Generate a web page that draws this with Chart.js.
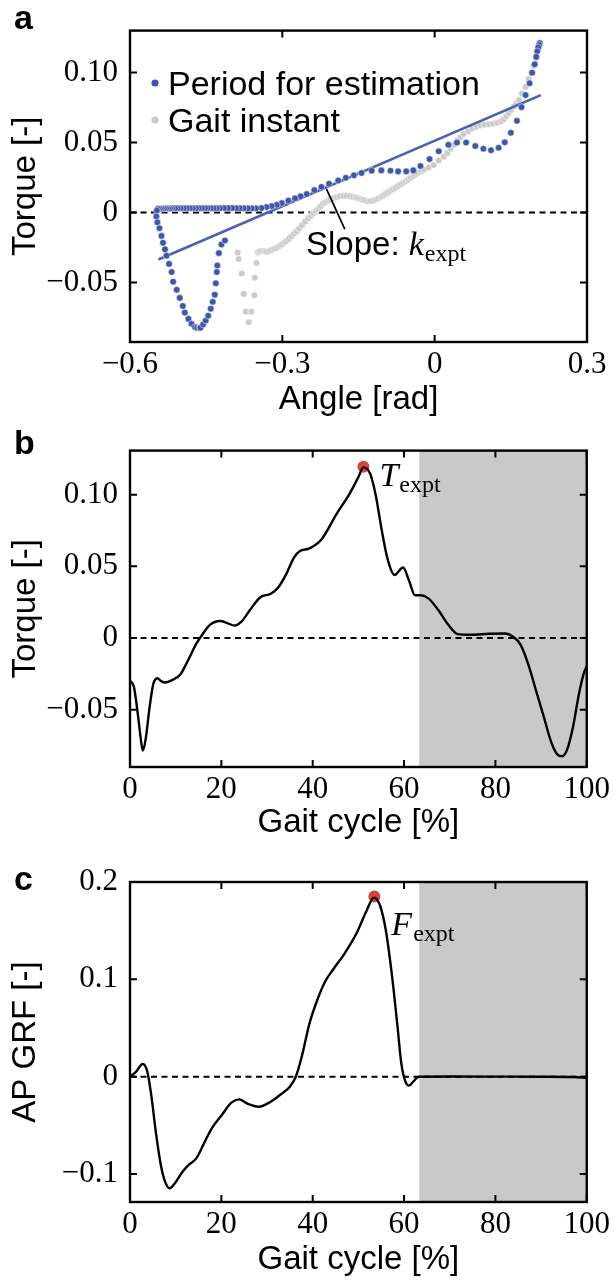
<!DOCTYPE html>
<html>
<head>
<meta charset="utf-8">
<script src="https://cdn.jsdelivr.net/npm/chart.js@4.4.1/dist/chart.umd.min.js"></script>
<style>
  html, body { margin: 0; padding: 0; background: #fff; }
  #wrap { position: relative; width: 614px; height: 1280px; }
  canvas { position: absolute; left: 0; }
</style>
</head>
<body>
<div id="wrap">
  <canvas id="chartA" width="614" height="420" style="top:0px"></canvas>
  <canvas id="chartB" width="614" height="430" style="top:420px"></canvas>
  <canvas id="chartC" width="614" height="430" style="top:850px"></canvas>
</div>
<script>
// ---------- panel a : torque vs angle ----------
// period for estimation (blue), in time order
const estAngle = [0.207, 0.206, 0.204, 0.202, 0.200, 0.197, 0.192, 0.187, 0.179, 0.171, 0.162, 0.150, 0.138, 0.126, 0.111,
  0.096, 0.080, 0.062, 0.044, 0.027, 0.008, -0.010, -0.028, -0.042, -0.056, -0.072, -0.087, -0.105, -0.124, -0.144,
  -0.159, -0.175, -0.190, -0.208, -0.223, -0.237, -0.252, -0.264, -0.275, -0.288, -0.301, -0.311, -0.321, -0.331, -0.341,
  -0.352, -0.360, -0.368, -0.376, -0.384, -0.391, -0.399, -0.407, -0.415, -0.423, -0.429, -0.435, -0.441, -0.447, -0.452,
  -0.458, -0.464, -0.470, -0.476, -0.482, -0.488, -0.494, -0.500, -0.506, -0.511, -0.517, -0.521, -0.525, -0.529, -0.533,
  -0.537, -0.541, -0.545, -0.547, -0.548, -0.546, -0.542, -0.538, -0.535, -0.531, -0.528, -0.523, -0.518, -0.515, -0.508,
  -0.502, -0.496, -0.492, -0.485, -0.479, -0.472, -0.468, -0.463, -0.461, -0.456, -0.451, -0.446, -0.441, -0.437, -0.433,
  -0.431, -0.429, -0.428, -0.425, -0.420, -0.413];
const estTorque = [0.121, 0.1197, 0.1179, 0.1151, 0.1111, 0.1058, 0.0998, 0.0923, 0.0838, 0.0752, 0.0654, 0.0569, 0.0501, 0.0462, 0.0444,
  0.0455, 0.0474, 0.0499, 0.0499, 0.0483, 0.0437, 0.0381, 0.0332, 0.0300, 0.0293, 0.0293, 0.0298, 0.0300, 0.0298, 0.0282,
  0.0265, 0.0247, 0.0228, 0.0205, 0.0182, 0.0159, 0.0131, 0.0115, 0.0101, 0.0084, 0.0066, 0.0054, 0.0045, 0.0038, 0.0031,
  0.0029, 0.0029, 0.0030, 0.0030, 0.0030, 0.0030, 0.0031, 0.0031, 0.0031, 0.0030, 0.0030, 0.0030, 0.0030, 0.0030, 0.0030,
  0.0030, 0.0030, 0.0030, 0.0030, 0.0030, 0.0030, 0.0030, 0.0030, 0.0029, 0.0029, 0.0029, 0.0028, 0.0028, 0.0028, 0.0027,
  0.0026, 0.0026, 0.0025, 0.0013, -0.0029, -0.0071, -0.0113, -0.0168, -0.0217, -0.0264, -0.0309, -0.0368, -0.0426, -0.0495, -0.0553,
  -0.0611, -0.0669, -0.0716, -0.0761, -0.0796, -0.0820, -0.0825, -0.0826, -0.0824, -0.0801, -0.0773, -0.0738, -0.0688, -0.0639, -0.0588,
  -0.0507, -0.0426, -0.0379, -0.0291, -0.0229, -0.0201];
// gait instant (grey), in time order
const instAngle = [-0.388, -0.386, -0.380, -0.376, -0.372, -0.366, -0.361, -0.355, -0.354, -0.351, -0.348, -0.345, -0.343, -0.338, -0.334,
  -0.331, -0.326, -0.321, -0.316, -0.311, -0.306, -0.301, -0.296, -0.292, -0.287, -0.282, -0.277, -0.272, -0.267, -0.261,
  -0.255, -0.249, -0.244, -0.239, -0.234, -0.229, -0.225, -0.220, -0.215, -0.210, -0.205, -0.200, -0.193, -0.187, -0.180,
  -0.174, -0.167, -0.161, -0.156, -0.151, -0.146, -0.141, -0.136, -0.131, -0.126, -0.121, -0.116, -0.111, -0.106, -0.102,
  -0.097, -0.092, -0.087, -0.082, -0.077, -0.072, -0.067, -0.062, -0.057, -0.052, -0.047, -0.042, -0.037, -0.033, -0.027,
  -0.021, -0.012, -0.002, 0.008, 0.018, 0.025, 0.031, 0.038, 0.044, 0.051, 0.057, 0.066, 0.074, 0.082, 0.090,
  0.098, 0.107, 0.115, 0.123, 0.130, 0.136, 0.141, 0.146, 0.151, 0.156, 0.161, 0.166, 0.172, 0.179, 0.185,
  0.190, 0.195, 0.200, 0.204];
const instTorque = [-0.0287, -0.0333, -0.0437, -0.0583, -0.0709, -0.0785, -0.0709, -0.0592, -0.0467, -0.0361, -0.0287, -0.0280, -0.0276, -0.0276, -0.0279,
  -0.0282, -0.0277, -0.0268, -0.0260, -0.0252, -0.0241, -0.0229, -0.0217, -0.0205, -0.0188, -0.0170, -0.0153, -0.0136, -0.0115, -0.0090,
  -0.0066, -0.0043, -0.0025, -0.0008, 0.0009, 0.0026, 0.0043, 0.0061, 0.0073, 0.0084, 0.0093, 0.0101, 0.0108, 0.0115, 0.0118,
  0.0119, 0.0116, 0.0112, 0.0107, 0.0101, 0.0095, 0.0089, 0.0084, 0.0080, 0.0081, 0.0084, 0.0092, 0.0101, 0.0110, 0.0119,
  0.0131, 0.0143, 0.0155, 0.0166, 0.0177, 0.0188, 0.0200, 0.0212, 0.0223, 0.0235, 0.0248, 0.0260, 0.0272, 0.0283, 0.0295,
  0.0305, 0.0320, 0.0339, 0.0370, 0.0397, 0.0425, 0.0455, 0.0484, 0.0513, 0.0537, 0.0560, 0.0580, 0.0599, 0.0612, 0.0622,
  0.0627, 0.0629, 0.0633, 0.0640, 0.0650, 0.0664, 0.0686, 0.0710, 0.0733, 0.0757, 0.0780, 0.0803, 0.0849, 0.0896, 0.0953,
  0.1000, 0.1047, 0.1104, 0.1162];
// fitted line and the pointer of the "Slope" label
const fitAngle = [-0.544, 0.209];
const fitTorque = [-0.0337, 0.0838];
const leadAngle = [-0.213, -0.177];
const leadTorque = [0.0166, -0.012];
const angleTicks = [-0.6, -0.3, 0, 0.3];
const angleLabels = ['\u22120.6', '\u22120.3', '0', '0.3'];
const torqueTicks = [-0.05, 0, 0.05, 0.10];
const torqueLabels = ['\u22120.05', '0', '0.05', '0.10'];

// ---------- panel b : torque over the gait cycle ----------
const gaitB = [0, 0.85, 1.7, 2.3, 2.8, 3.4, 4.3, 5.1, 6.0, 6.8, 7.7, 9.4, 11.1, 12.8, 14.5, 15.8, 17.5, 19.7, 21.4, 22.9,
  24.4, 26.5, 28.6, 30.8, 32.5, 34.2, 35.9, 37.2, 39.3, 41.9, 45.3, 47.9, 50.0, 51.1, 52.6, 53.8, 55.1, 56.4, 57.9, 59.8,
  61.1, 62.4, 63.7, 65.4, 67.5, 69.7, 71.8, 74.4, 78.6, 82.1, 83.8, 85.5, 87.2, 88.9, 90.6, 92.3, 93.6, 94.6, 95.7, 97.0,
  98.3, 99.3, 100];
const torqueB = [-0.0298, -0.034, -0.0527, -0.0687, -0.0785, -0.071, -0.048, -0.032, -0.028, -0.030, -0.031, -0.029, -0.025, -0.0149, -0.004, 0.0023, 0.0092, 0.0119, 0.0103, 0.0087,
  0.0114, 0.0206, 0.0286, 0.0309, 0.0355, 0.0446, 0.0561, 0.0607, 0.0625, 0.0687, 0.087, 0.0996, 0.1122, 0.119, 0.1145, 0.0996, 0.0755, 0.055, 0.044, 0.0492,
  0.040, 0.0298, 0.0298, 0.0275, 0.0195, 0.0092, 0.0027, 0.0023, 0.003, 0.0032, 0.0011, -0.0046, -0.0183, -0.0366, -0.055, -0.0733, -0.0813, -0.0824, -0.0778, -0.0618,
  -0.0389, -0.0252, -0.0195];
const torquePeak = [51.1, 0.1195];

// ---------- panel c : AP ground reaction force ----------
const gaitC = [0, 1.3, 2.8, 3.8, 4.7, 5.6, 6.8, 7.7, 8.7, 9.8, 11.5, 12.8, 14.5, 16.2, 17.9, 20.1, 22.2, 23.9, 25.6, 28.2,
  30.8, 33.3, 35.0, 36.3, 37.6, 39.3, 41.0, 42.7, 44.4, 47.0, 49.6, 51.7, 53.4, 54.7, 56.0, 57.3, 58.5, 59.4, 60.3, 61.1,
  62.0, 63.2, 70, 80, 90, 97, 100];
const grfC = [0, 0.005, 0.013, 0.005, -0.0205, -0.0548, -0.092, -0.108, -0.1147, -0.1096, -0.0976, -0.0908, -0.0839, -0.0685, -0.053, -0.0394, -0.0267, -0.0233, -0.0274, -0.0308,
  -0.0257, -0.0171, -0.0103, 0, 0.0205, 0.0548, 0.0788, 0.0976, 0.1096, 0.1267, 0.1473, 0.1695, 0.1840, 0.1764, 0.1507, 0.1062, 0.0548, 0.0137, -0.0051, -0.0092,
  -0.0051, 0, 0.0002, 0.0001, 0, -0.0003, -0.0012];
const grfPeak = [53.5, 0.185];
const grfTicks = [-0.1, 0, 0.1, 0.2];
const grfLabels = ['\u22120.1', '0', '0.1', '0.2'];
const gaitTicks = [0, 20, 40, 60, 80, 100];
const gaitLabels = ['0', '20', '40', '60', '80', '100'];
const swingStart = 63.3;   // start of the shaded part

const BLUE = '#3f57a8';
const FIT = '#4a62b3';
const GREY = '#cbcbcb';
const RED = '#d5453b';
const SHADE = '#c9c9c9';
const SERIF = '"Liberation Serif", "Times New Roman", serif';
const SANS = '"Liberation Sans", Arial, sans-serif';

function pts(xs, ys) {
  return xs.map((x, i) => ({ x: x, y: ys[i] }));
}

function makeScales(o) {
  const tickFont = { family: SERIF, size: 31 };
  const titleFont = { family: SANS, size: 33 };
  return {
    x: {
      type: 'linear', min: o.xMin, max: o.xMax,
      grid: { display: false, drawTicks: false },
      border: { display: false },
      afterBuildTicks: s => { s.ticks = o.xTicks.map(v => ({ value: v })); },
      afterFit: s => { s.height = o.xHeight; },
      ticks: { autoSkip: false, maxRotation: 0, padding: o.xPad, color: '#000', font: tickFont,
        callback: (v, i) => o.xLabels[i] },
      title: { display: true, text: o.xTitle, color: '#000', font: titleFont, padding: { top: 0, bottom: o.xTitlePad } }
    },
    y: {
      type: 'linear', min: o.yMin, max: o.yMax,
      grid: { display: false, drawTicks: false },
      border: { display: false },
      afterBuildTicks: s => { s.ticks = o.yTicks.map(v => ({ value: v })); },
      afterFit: s => { s.width = 130; },
      ticks: { autoSkip: false, padding: 12, color: '#000', font: tickFont,
        callback: (v, i) => o.yLabels[i] },
      title: { display: true, text: o.yTitle, color: '#000', font: titleFont, padding: { top: 6, bottom: 0 } }
    }
  };
}

// box with inward ticks on all four sides
const frame = {
  id: 'frame',
  afterDraw(chart) {
    const { ctx, chartArea: a } = chart;
    const sx = chart.scales.x, sy = chart.scales.y;
    ctx.save();
    ctx.strokeStyle = '#000';
    ctx.lineWidth = 2;
    ctx.beginPath();
    sx.ticks.forEach(t => {
      const p = sx.getPixelForValue(t.value);
      ctx.moveTo(p, a.bottom); ctx.lineTo(p, a.bottom - 7);
      ctx.moveTo(p, a.top); ctx.lineTo(p, a.top + 7);
    });
    sy.ticks.forEach(t => {
      const p = sy.getPixelForValue(t.value);
      ctx.moveTo(a.left, p); ctx.lineTo(a.left + 7, p);
      ctx.moveTo(a.right, p); ctx.lineTo(a.right - 7, p);
    });
    ctx.stroke();
    ctx.lineWidth = 2.4;
    ctx.strokeRect(a.left, a.top, a.right - a.left, a.bottom - a.top);
    ctx.restore();
  }
};

function text(ctx, s, x, y, font) {
  ctx.font = font;
  ctx.fillStyle = '#000';
  ctx.textAlign = 'left';
  ctx.textBaseline = 'alphabetic';
  ctx.fillText(s, x, y);
  return ctx.measureText(s).width;
}

// italic symbol with an "expt" subscript
function symbol(ctx, s, x, y) {
  const w = text(ctx, s, x, y, 'italic 34px ' + SERIF);
  text(ctx, 'expt', x + w + 1, y + 6, '24px ' + SERIF);
}

function panelLetter(ctx, s, y) {
  text(ctx, s, 14, y, 'bold 34px ' + SANS);
}

const baseOptions = {
  responsive: false,
  animation: false,
  devicePixelRatio: 1,
  plugins: { legend: { display: false }, tooltip: { enabled: false } },
  elements: { point: { hoverRadius: 0 } }
};

// ---------- chart a ----------
const extrasA = {
  id: 'extrasA',
  afterDraw(chart) {
    const ctx = chart.ctx;
    ctx.save();
    panelLetter(ctx, 'a', 29);
    // legend
    const items = [[chart.data.datasets[3].backgroundColor, 'Period for estimation', 95],
                   [chart.data.datasets[1].backgroundColor, 'Gait instant', 132]];
    items.forEach(([c, label, base]) => {
      ctx.fillStyle = c;
      ctx.beginPath();
      ctx.arc(155, base - 12, 3.6, 0, Math.PI * 2);
      ctx.fill();
      text(ctx, label, 168, base, '34px ' + SANS);
    });
    const w = text(ctx, 'Slope: ', 306, 255, '33px ' + SANS);
    symbol(ctx, 'k', 306 + w, 255);
    ctx.restore();
  }
};

new Chart(document.getElementById('chartA'), {
  type: 'scatter',
  data: {
    datasets: [
      { data: pts([-0.6, 0.3], [0, 0]), showLine: true, borderColor: '#000', borderWidth: 2,
        borderDash: [6, 4.5], pointRadius: 0, order: 6 },
      { data: pts(instAngle, instTorque), backgroundColor: GREY, pointBackgroundColor: GREY,
        pointBorderColor: '#fff', pointBorderWidth: 0.5, pointRadius: 3.3, order: 5 },
      { data: pts(fitAngle, fitTorque), showLine: true, borderColor: FIT, borderWidth: 2.7,
        pointRadius: 0, order: 4 },
      { data: pts(estAngle, estTorque), backgroundColor: BLUE, pointBackgroundColor: BLUE,
        pointBorderColor: '#fff', pointBorderWidth: 0.5, pointRadius: 3.3, order: 3 },
      { data: pts(leadAngle, leadTorque), showLine: true, borderColor: '#000', borderWidth: 1.7,
        pointRadius: 0, order: 2 }
    ]
  },
  options: Object.assign({}, baseOptions, {
    layout: { padding: { left: 0, right: 27, top: 22, bottom: 0 } },
    scales: makeScales({
      xMin: -0.6, xMax: 0.3, xTicks: angleTicks, xLabels: angleLabels, xHeight: 78, xPad: 4,
      xTitle: 'Angle [rad]', xTitlePad: 0,
      yMin: -0.0926, yMax: 0.1299, yTicks: torqueTicks, yLabels: torqueLabels, yTitle: 'Torque [-]'
    })
  }),
  plugins: [frame, extrasA]
});

// ---------- chart b ----------
const extrasB = {
  id: 'extrasB',
  afterDraw(chart) {
    const ctx = chart.ctx;
    const px = chart.scales.x.getPixelForValue(torquePeak[0]);
    const py = chart.scales.y.getPixelForValue(torquePeak[1]);
    ctx.save();
    panelLetter(ctx, 'b', 34);
    symbol(ctx, 'T', px + 16, py + 19);
    ctx.restore();
  }
};

new Chart(document.getElementById('chartB'), {
  type: 'scatter',
  data: {
    datasets: [
      { data: pts([swingStart, 100], [0.1307, 0.1307]), showLine: true, fill: 'start',
        backgroundColor: SHADE, borderWidth: 0, pointRadius: 0, order: 8 },
      { data: pts([0, 100], [0, 0]), showLine: true, borderColor: '#000', borderWidth: 2,
        borderDash: [6, 4.5], pointRadius: 0, order: 7 },
      { data: pts([torquePeak[0]], [torquePeak[1]]), pointBackgroundColor: RED, backgroundColor: RED,
        pointBorderWidth: 0, pointRadius: 6, order: 6 },
      { data: pts(gaitB, torqueB), showLine: true, borderColor: '#000', borderWidth: 2.4,
        cubicInterpolationMode: 'monotone', pointRadius: 0, order: 5 }
    ]
  },
  options: Object.assign({}, baseOptions, {
    layout: { padding: { left: 0, right: 27, top: 26, bottom: 0 } },
    scales: makeScales({
      xMin: 0, xMax: 100, xTicks: gaitTicks, xLabels: gaitLabels, xHeight: 83, xPad: 4,
      xTitle: 'Gait cycle [%]', xTitlePad: 7,
      yMin: -0.0899, yMax: 0.1307, yTicks: torqueTicks, yLabels: torqueLabels, yTitle: 'Torque [-]'
    })
  }),
  plugins: [frame, extrasB]
});

// ---------- chart c ----------
const extrasC = {
  id: 'extrasC',
  afterDraw(chart) {
    const ctx = chart.ctx;
    const px = chart.scales.x.getPixelForValue(grfPeak[0]);
    const py = chart.scales.y.getPixelForValue(grfPeak[1]);
    ctx.save();
    panelLetter(ctx, 'c', 40);
    symbol(ctx, 'F', px + 17, py + 38);
    ctx.restore();
  }
};

new Chart(document.getElementById('chartC'), {
  type: 'scatter',
  data: {
    datasets: [
      { data: pts([swingStart, 100], [0.2, 0.2]), showLine: true, fill: 'start',
        backgroundColor: SHADE, borderWidth: 0, pointRadius: 0, order: 8 },
      { data: pts([0, 100], [0, 0]), showLine: true, borderColor: '#000', borderWidth: 2,
        borderDash: [6, 4.5], pointRadius: 0, order: 7 },
      { data: pts([grfPeak[0]], [grfPeak[1]]), pointBackgroundColor: RED, backgroundColor: RED,
        pointBorderWidth: 0, pointRadius: 6, order: 6 },
      { data: pts(gaitC, grfC), showLine: true, borderColor: '#000', borderWidth: 2.4,
        cubicInterpolationMode: 'monotone', pointRadius: 0, order: 5 }
    ]
  },
  options: Object.assign({}, baseOptions, {
    layout: { padding: { left: 0, right: 27, top: 32, bottom: 0 } },
    scales: makeScales({
      xMin: 0, xMax: 100, xTicks: gaitTicks, xLabels: gaitLabels, xHeight: 78, xPad: 4,
      xTitle: 'Gait cycle [%]', xTitlePad: 0,
      yMin: -0.1287, yMax: 0.2, yTicks: grfTicks, yLabels: grfLabels, yTitle: 'AP GRF [-]'
    })
  }),
  plugins: [frame, extrasC]
});
</script>
</body>
</html>
